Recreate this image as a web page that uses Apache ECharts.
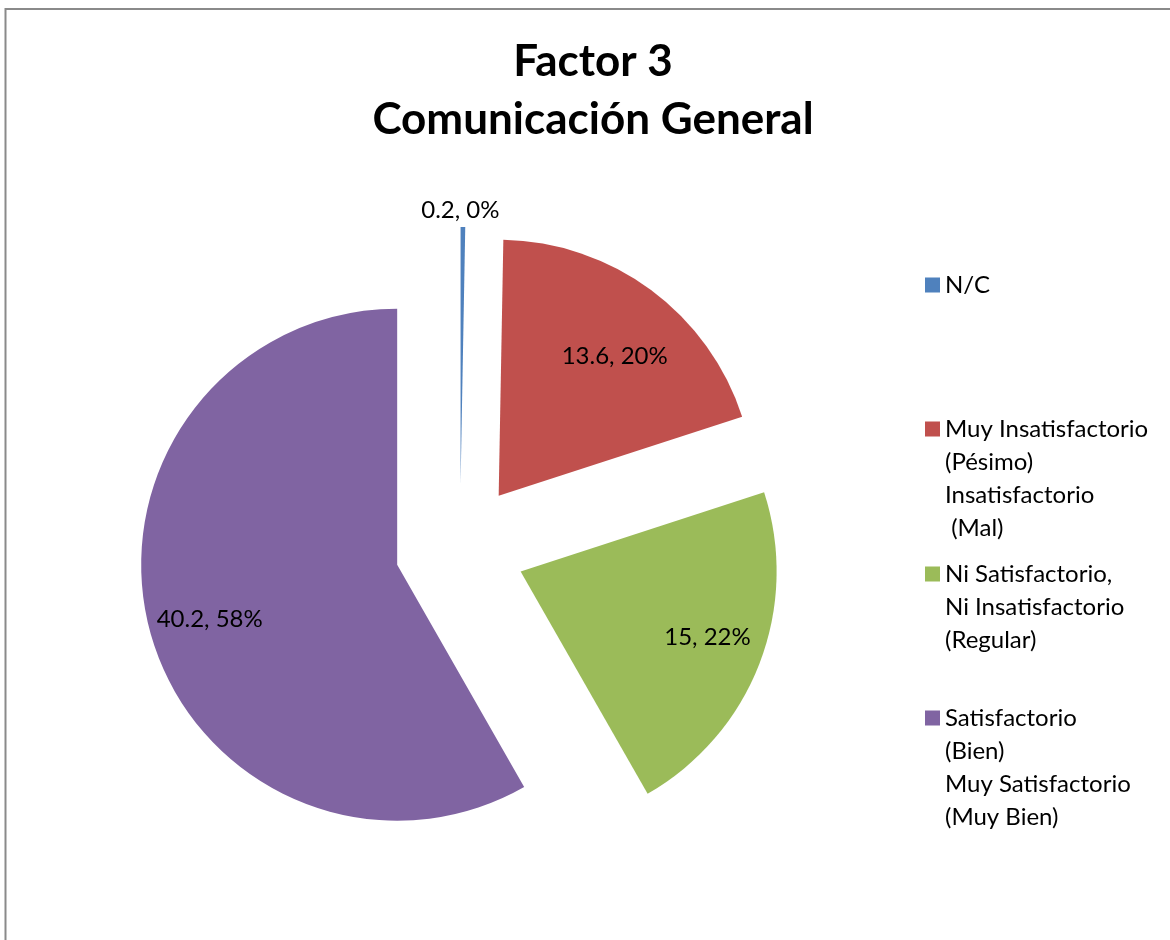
<!DOCTYPE html>
<html><head><meta charset="utf-8">
<script src="https://cdn.jsdelivr.net/npm/echarts@6/dist/echarts.min.js"></script>
<style>html,body{margin:0;padding:0;background:#fff}#c{width:1170px;height:940px}</style>
</head><body><div id="c"></div>
<script>
const titleText = 'Factor 3\nComunicación General';
const categories = [
  'N/C',
  'Muy Insatisfactorio\n(Pésimo)\nInsatisfactorio\n (Mal)',
  'Ni Satisfactorio,\nNi Insatisfactorio\n(Regular)',
  'Satisfactorio\n(Bien)\nMuy Satisfactorio\n(Muy Bien)'
];
const values = [0.2, 13.6, 15, 40.2];
const colors = ['#4F81BD', '#C0504D', '#9BBB59', '#8064A2'];

const FONT = 'Lato';
const LH = 33;
const labelShift = [[-2, -78], [0, 17], [5, -4], [1, 5]];
const legendFirstLine = [285, 429, 574, 718];

const chart = echarts.init(document.getElementById('c'), null, {renderer: 'canvas'});

const mainData = categories.map((name, i) => ({
  name, value: values[i], selected: true, itemStyle: {color: colors[i]}
}));
const labelData = categories.map((name, i) => ({
  name, value: values[i], selected: true
}));

const legends = categories.map((name, i) => {
  const n = name.split('\n').length;
  const H = n * LH;
  // square icon aligned with first text line; invisible points stretch its box to the text block
  const icon = 'path://M0,0h0.01M0,9h15v15h-15zM0,' + H + 'h0.01';
  return {
    data: [name],
    orient: 'vertical',
    left: 925,
    top: legendFirstLine[i] - LH / 2,
    padding: 0,
    itemWidth: 15,
    itemHeight: H,
    icon: icon,
    selectedMode: false,
    itemStyle: {borderWidth: 0},
    textStyle: {fontFamily: FONT, fontSize: 24, color: '#000', lineHeight: LH}
  };
});

chart.setOption({
  backgroundColor: '#fff',
  animation: false,
  title: {
    text: titleText,
    left: 593,
    textAlign: 'center',
    top: 33,
    padding: 0,
    textStyle: {fontFamily: FONT, fontSize: 44, fontWeight: 'bold', color: '#000', lineHeight: 58}
  },
  legend: legends,
  graphic: [{
    type: 'rect', silent: true,
    shape: {x: 5.5, y: 9, width: 1300, height: 1100},
    style: {fill: 'none', stroke: '#8a8a8a', lineWidth: 2}
  }],
  series: [
    {
      type: 'pie',
      center: [460, 548],
      radius: [0, 256],
      startAngle: 90,
      clockwise: true,
      selectedMode: 'multiple',
      selectedOffset: 65,
      silent: true,
      label: {show: false},
      labelLine: {show: false},
      data: mainData
    },
    {
      type: 'pie',
      center: [460, 548],
      radius: [128, 256],
      startAngle: 90,
      clockwise: true,
      selectedMode: 'multiple',
      selectedOffset: 65,
      silent: true,
      percentPrecision: 0,
      minShowLabelAngle: 0,
      itemStyle: {color: 'rgba(0,0,0,0)'},
      label: {
        show: true, position: 'inside',
        formatter: '{c}, {d}%',
        fontFamily: FONT, fontSize: 24, color: '#000'
      },
      labelLayout: function (p) {
        const s = labelShift[p.dataIndex];
        return {dx: s[0], dy: s[1]};
      },
      labelLine: {show: false},
      data: labelData
    }
  ]
});
</script>
</body></html>
